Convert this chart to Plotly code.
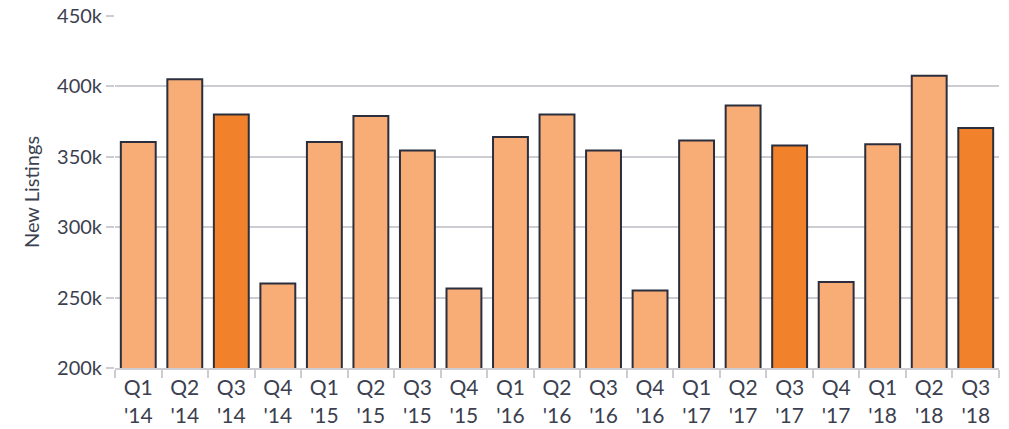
import plotly.graph_objects as go

quarters = ["Q1<br>'14", "Q2<br>'14", "Q3<br>'14", "Q4<br>'14",
            "Q1<br>'15", "Q2<br>'15", "Q3<br>'15", "Q4<br>'15",
            "Q1<br>'16", "Q2<br>'16", "Q3<br>'16", "Q4<br>'16",
            "Q1<br>'17", "Q2<br>'17", "Q3<br>'17", "Q4<br>'17",
            "Q1<br>'18", "Q2<br>'18", "Q3<br>'18"]
new_listings = [360500, 405000, 380000, 260000,
                360500, 379000, 354500, 256500,
                364000, 380000, 354500, 255000,
                361500, 386500, 358000, 261000,
                359000, 407500, 370500]
highlight = [False, False, True, False,
             False, False, False, False,
             False, False, False, False,
             False, False, True, False,
             False, False, True]

LIGHT = "#F8AD77"
DARK = "#F2812B"
colors = [DARK if h else LIGHT for h in highlight]
TEXT = "#3C3F50"

fig = go.Figure(go.Bar(
    x=quarters, y=new_listings,
    marker=dict(color=colors, line=dict(color="#2B2E3D", width=2)),
    hoverinfo="x+y",
))

fig.update_layout(
    width=1009, height=429,
    margin=dict(l=115, r=10, t=16, b=61),
    paper_bgcolor="white", plot_bgcolor="white",
    bargap=0.25,
    showlegend=False,
    font=dict(family="Lato, sans-serif", size=20, color=TEXT),
)
fig.update_xaxes(
    type="category",
    automargin=False,
    tickson="boundaries",
    ticks="outside", ticklen=8, tickcolor="#CCCCD2", tickwidth=2,
    showline=True, linecolor="#CCCCD2", linewidth=2,
    showgrid=False,
    tickfont=dict(size=21, color=TEXT),
)
fig.update_yaxes(
    automargin=False,
    range=[200000, 450000],
    tickvals=[200000, 250000, 300000, 350000, 400000, 450000],
    ticktext=["200k", "250k", "300k", "350k", "400k", "450k"],
    showgrid=True, gridcolor="#CCCCD2", gridwidth=2,
    ticks="outside", ticklen=8, tickcolor="#CCCCD2", tickwidth=2,
    showline=False, zeroline=False,
    tickfont=dict(size=20, color=TEXT),
    title=dict(text="New Listings", font=dict(size=20, color=TEXT), standoff=12),
)

fig.write_html("out.html")
